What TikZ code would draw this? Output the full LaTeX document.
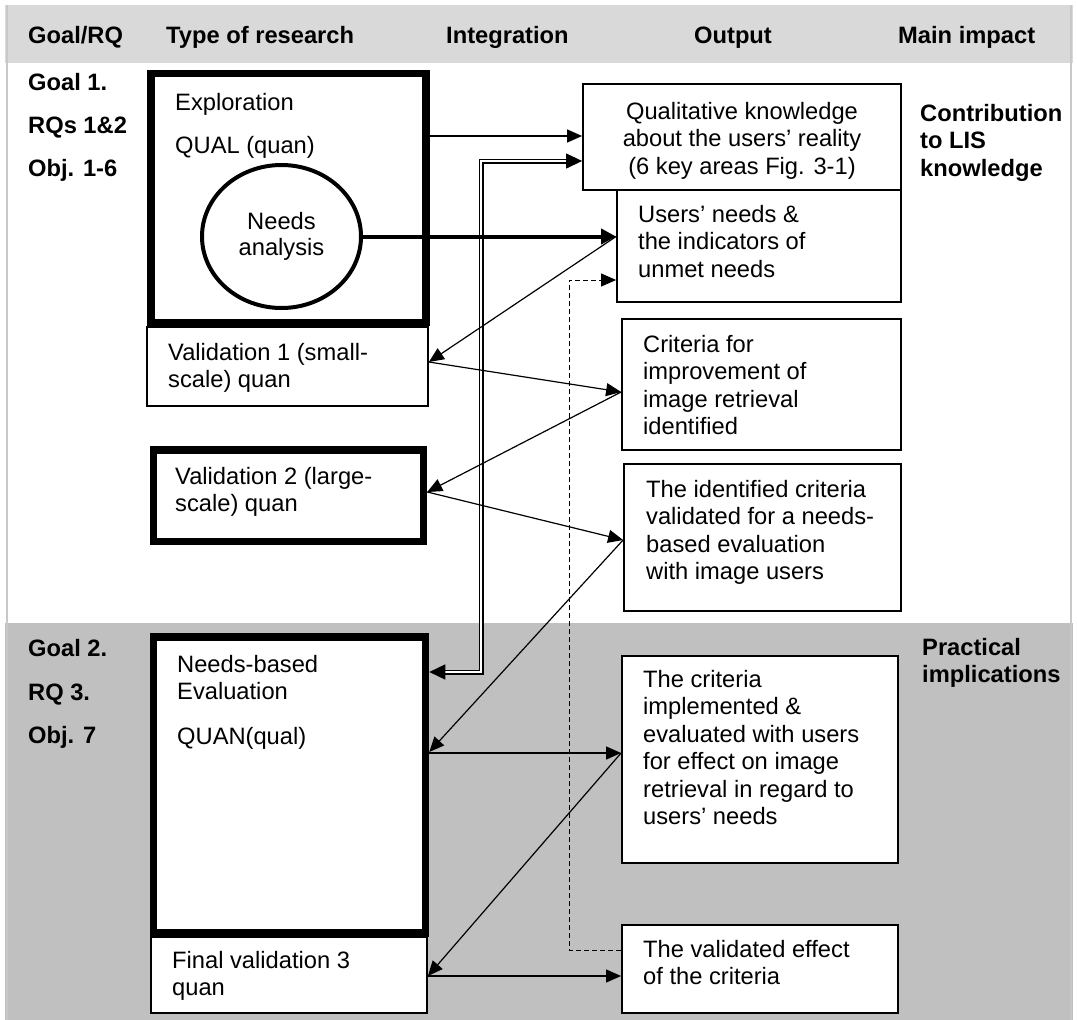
\documentclass[tikz,border=0pt]{standalone}
\usepackage{fontspec}
\setmainfont{Liberation Sans}
\usetikzlibrary{arrows.meta,shapes.geometric,fit}
\definecolor{headgray}{HTML}{D9D9D9}
\definecolor{lowgray}{HTML}{C0C0C0}
\definecolor{rulegray}{HTML}{C8C8C8}
% multi-line text whose reference point is the first baseline
\newcommand\mltext[1]{\parbox[t]{300pt}{\raggedright #1}}
\newcommand\mlcenter[1]{\parbox[t]{300pt}{\centering #1}}
\begin{document}
\begin{tikzpicture}[x=1pt,y=-1pt,
  every node/.style={font=\fontsize{23.7}{27.5}\selectfont},
  lbl/.style={anchor=base west, inner sep=0pt},
  hdr/.style={lbl, font=\fontsize{23.7}{27.5}\selectfont\bfseries},
  box/.style={draw, fill=white, rectangle, inner sep=0pt, line width=1.8pt, outer sep=0.9pt},
  heavybox/.style={box, line width=7.5pt, outer sep=3.75pt},
  link/.style={line width=1.2pt, -{Triangle[length=15pt,width=13pt]}},
  boldlink/.style={line width=4pt, -{Triangle[length=15pt,width=15pt]}},
  dbl/.style={double, line width=1.2pt, double distance=2.6pt,
    {Triangle[length=16pt,width=15pt]}-{Triangle[length=16pt,width=15pt]}},
  dashlink/.style={line width=1pt, dash pattern=on 5pt off 3pt,
    -{Triangle[length=15pt,width=13pt]}}
]
\useasboundingbox (0,0) rectangle (1077,1020);

% table bands
\fill[headgray] (5,5) rectangle (1073,63);
\fill[white] (5,63) rectangle (1073,623);
\fill[lowgray] (5,623) rectangle (1073,1020);
\draw[rulegray, line width=1.5pt] (7,5) -- (7,1020);
\draw[rulegray, line width=1.5pt] (1071,5) -- (1071,1020);

% column headings
\node[hdr] (hGoal) at (28,43) {Goal/RQ};
\node[hdr] (hType) at (166,43) {Type of research};
\node[hdr] (hInt) at (446,43) {Integration};
\node[hdr] (hOut) at (694,43) {Output};
\node[hdr] (hImp) at (898,43) {Main impact};

% goal column
\node[hdr] (g1) at (28,90) {Goal 1.};
\node[hdr] (g1rq) at (28,133) {RQs 1\&2};
\node[hdr] (g1obj) at (28,176) {Obj. 1-6};
\node[hdr] (g2) at (28,656) {Goal 2.};
\node[hdr] (g2rq) at (28,700) {RQ 3.};
\node[hdr] (g2obj) at (28,743) {Obj. 7};

% impact column
\node[hdr] (imp1) at (920,121) {\mltext{Contribution\\to LIS\\knowledge}};
\node[hdr] (imp2) at (922,655) {\mltext{Practical\\implications}};

% research boxes
\node[box, fit={(147,327) (428,406)}] (val1) {};
\node[heavybox, fit={(151,73.5) (426,322.5)}] (expl) {};
\node[heavybox, fit={(153.5,450) (423.5,541.5)}] (val2) {};
\node[box, fit={(151,937) (427,1013)}] (fv3) {};
\node[heavybox, fit={(153.5,637) (425.5,933)}] (nbe) {};
\node[ellipse, draw, fill=white, line width=4pt, minimum width=159pt,
  minimum height=143pt, inner sep=0pt, outer sep=2pt, align=center,
  font=\fontsize{23.7}{26}\selectfont] (needs) at (281.5,236.5) {Needs\\analysis};

% output boxes
\node[box, fit={(583,84) (901,190)}] (qual) {};
\node[box, fit={(617,190) (901,302)}] (uneeds) {};
\node[box, fit={(622,319) (901,450)}] (crit) {};
\node[box, fit={(624,464) (901,611)}] (idcrit) {};
\node[box, fit={(622,656) (898,863)}] (implem) {};
\node[box, fit={(622,925) (898,1013)}] (veff) {};

% box texts
\node[lbl] (explT) at (175,110) {Exploration};
\node[lbl] (explQ) at (175,153) {QUAL (quan)};
\node[lbl] (val1T) at (168,360) {\mltext{Validation 1 (small-\\scale) quan}};
\node[lbl] (val2T) at (175,484) {\mltext{Validation 2 (large-\\scale) quan}};
\node[lbl] (nbeT) at (177,672) {\mltext{Needs-based\\Evaluation}};
\node[lbl] (nbeQ) at (177,744) {QUAN(qual)};
\node[lbl] (fv3T) at (172,968) {\mltext{Final validation 3\\quan}};
\node[anchor=base, inner sep=0pt] (qualT) at (742,119)
  {\mlcenter{Qualitative knowledge\\about the users’ reality\\(6 key areas Fig. 3-1)}};
\node[lbl] (uneedsT) at (638,222) {\mltext{Users’ needs \&\\the indicators of\\unmet needs}};
\node[lbl] (critT) at (643,352) {\mltext{Criteria for\\improvement of\\image retrieval\\identified}};
\node[lbl] (idcritT) at (646,497) {\mltext{The identified criteria\\validated for a needs-\\based evaluation\\with image users}};
\node[lbl] (implemT) at (643,687) {\mltext{The criteria\\implemented \&\\evaluated with users\\for effect on image\\retrieval in regard to\\users’ needs}};
\node[lbl] (veffT) at (643,957) {\mltext{The validated effect\\of the criteria}};

% feedback from the final output to the needs
\draw[dashlink] (veff.west |- 0,950) -| (569,280) -- (uneeds.west |- 0,280);

% integration links
\draw[dbl] (nbe.east |- 0,672) -| (481,161) -- (qual.west |- 0,161);
\draw[link] (expl.east |- 0,136) -- (qual.west |- 0,136);
\draw[boldlink] (needs.east) -- (uneeds.west |- needs.east);
\draw[link] (uneeds.west |- needs.east) -- (val1.east |- 0,362);
\draw[link] (val1.east |- 0,362) -- (crit.west |- 0,392);
\draw[link] (crit.west |- 0,392) -- (val2.east |- 0,492);
\draw[link] (val2.east |- 0,492) -- (idcrit.west |- 0,540);
\draw[link] (idcrit.west |- 0,540) -- (nbe.east |- 0,752);
\draw[link] (nbe.east |- 0,753) -- (implem.west |- 0,753);
\draw[link] (implem.west |- 0,753) -- (fv3.east |- 0,976);
\draw[link] (fv3.east |- 0,976) -- (veff.west |- 0,976);
\end{tikzpicture}
\end{document}
